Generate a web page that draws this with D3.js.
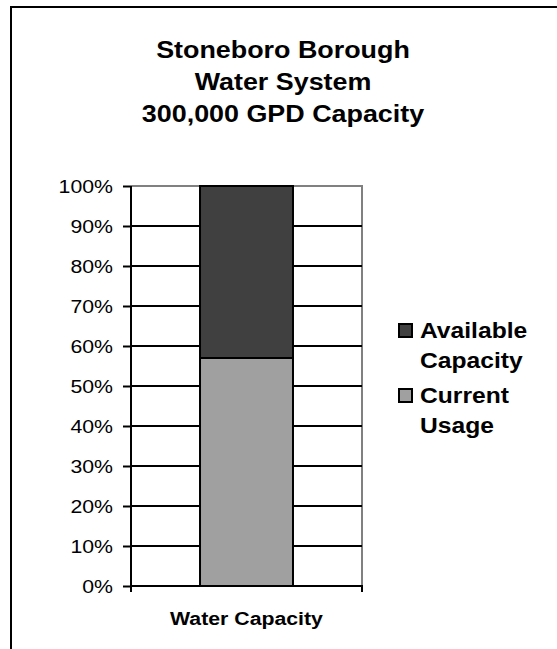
<!DOCTYPE html>
<html>
<head>
<meta charset="utf-8">
<script src="https://cdn.jsdelivr.net/npm/d3@7"></script>
<style>
  body { margin: 0; background: #fff; }
  text { font-family: "Liberation Sans", Arial, sans-serif; }
</style>
</head>
<body>
<script>
const width = 557;
const height = 649;
const margin = { top: 186, right: 195, bottom: 63, left: 131 };

const titleLines = ["Stoneboro Borough", "Water System", "300,000 GPD Capacity"];
const categories = ["Water Capacity"];
const seriesNames = ["Current Usage", "Available Capacity"];
const currentUsage = [0.57];
const availableCapacity = [0.43];
const legendLines = [["Available", "Capacity"], ["Current", "Usage"]];
const yTicks = [0, 0.1, 0.2, 0.3, 0.4, 0.5, 0.6, 0.7, 0.8, 0.9, 1];
const colors = { "Current Usage": "#a0a0a0", "Available Capacity": "#404040" };

// text in the original is a little wide
const sx = 1.12;

const plotW = width - margin.left - margin.right;
const plotH = height - margin.top - margin.bottom;

const svg = d3.select("body")
  .append("svg")
  .attr("width", width)
  .attr("height", height);

// outer frame (right and bottom run off the page)
svg.append("rect")
  .attr("x", 11).attr("y", 7)
  .attr("width", 600).attr("height", 700)
  .attr("fill", "none")
  .attr("stroke", "#000")
  .attr("stroke-width", 2);

svg.selectAll(".title")
  .data(titleLines)
  .join("text")
  .attr("class", "title")
  .attr("transform", (d, i) => `translate(283, ${58 + i * 32}) scale(${sx},1)`)
  .attr("text-anchor", "middle")
  .attr("font-size", "24px")
  .attr("font-weight", "bold")
  .text(d => d);

const g = svg.append("g")
  .attr("transform", `translate(${margin.left}, ${margin.top})`);

const x = d3.scaleBand().domain(categories).range([0, plotW]).padding(0.426);
const y = d3.scaleLinear().domain([0, 1]).range([plotH, 0]);

// plot area border (grey top and right)
g.append("path")
  .attr("d", `M0,0H${plotW}V${plotH}`)
  .attr("fill", "none")
  .attr("stroke", "#808080")
  .attr("stroke-width", 2);

// gridlines
g.selectAll(".grid")
  .data(yTicks.filter(t => t > 0 && t < 1))
  .join("line")
  .attr("class", "grid")
  .attr("x1", 0).attr("x2", plotW)
  .attr("y1", d => y(d)).attr("y2", d => y(d))
  .attr("stroke", "#000")
  .attr("stroke-width", 2);

// stacked bar
const rows = categories.map((c, i) => ({
  cat: c,
  "Current Usage": currentUsage[i],
  "Available Capacity": availableCapacity[i]
}));
const stack = d3.stack().keys(seriesNames)(rows);

g.selectAll(".layer")
  .data(stack)
  .join("g")
  .attr("class", "layer")
  .attr("fill", d => colors[d.key])
  .selectAll("rect")
  .data(d => d)
  .join("rect")
  .attr("x", d => x(d.data.cat))
  .attr("width", x.bandwidth())
  .attr("y", d => y(d[1]))
  .attr("height", d => y(d[0]) - y(d[1]))
  .attr("stroke", "#000")
  .attr("stroke-width", 2);

// y axis
const yAxis = g.append("g")
  .call(d3.axisLeft(y).tickValues(yTicks).tickFormat(d3.format(".0%")).tickSize(8).tickPadding(10));
yAxis.select(".domain").attr("d", `M0,0V${plotH + 6}`).attr("stroke-width", 2);
yAxis.selectAll(".tick line").attr("stroke-width", 2);
yAxis.selectAll(".tick text")
  .attr("x", -18 / sx)
  .attr("transform", `scale(${sx},1)`)
  .attr("font-size", "19px")
  .attr("font-family", "Liberation Sans, Arial, sans-serif")
  .attr("fill", "#000");

// x axis
const xAxis = g.append("g")
  .attr("transform", `translate(0, ${plotH})`);
xAxis.append("path")
  .attr("d", `M0,0H${plotW}V6`)
  .attr("fill", "none")
  .attr("stroke", "#000")
  .attr("stroke-width", 2);
xAxis.selectAll("text")
  .data(categories)
  .join("text")
  .attr("transform", d => `translate(${x(d) + x.bandwidth() / 2}, 39) scale(${sx},1)`)
  .attr("text-anchor", "middle")
  .attr("font-size", "19px")
  .attr("font-weight", "bold")
  .text(d => d);

// legend
const legend = svg.append("g").attr("transform", "translate(398, 323)");
const legendKeys = ["Available Capacity", "Current Usage"];
const item = legend.selectAll(".item")
  .data(legendKeys)
  .join("g")
  .attr("class", "item")
  .attr("transform", (d, i) => `translate(0, ${i * 65})`);
item.append("rect")
  .attr("x", 1).attr("y", 1)
  .attr("width", 13).attr("height", 13)
  .attr("fill", d => colors[d])
  .attr("stroke", "#000")
  .attr("stroke-width", 2);
item.selectAll("text")
  .data((d, i) => legendLines[i])
  .join("text")
  .attr("transform", (d, j) => `translate(22, ${15 + j * 30}) scale(${sx},1)`)
  .attr("font-size", "22px")
  .attr("font-weight", "bold")
  .text(d => d);
</script>
</body>
</html>
